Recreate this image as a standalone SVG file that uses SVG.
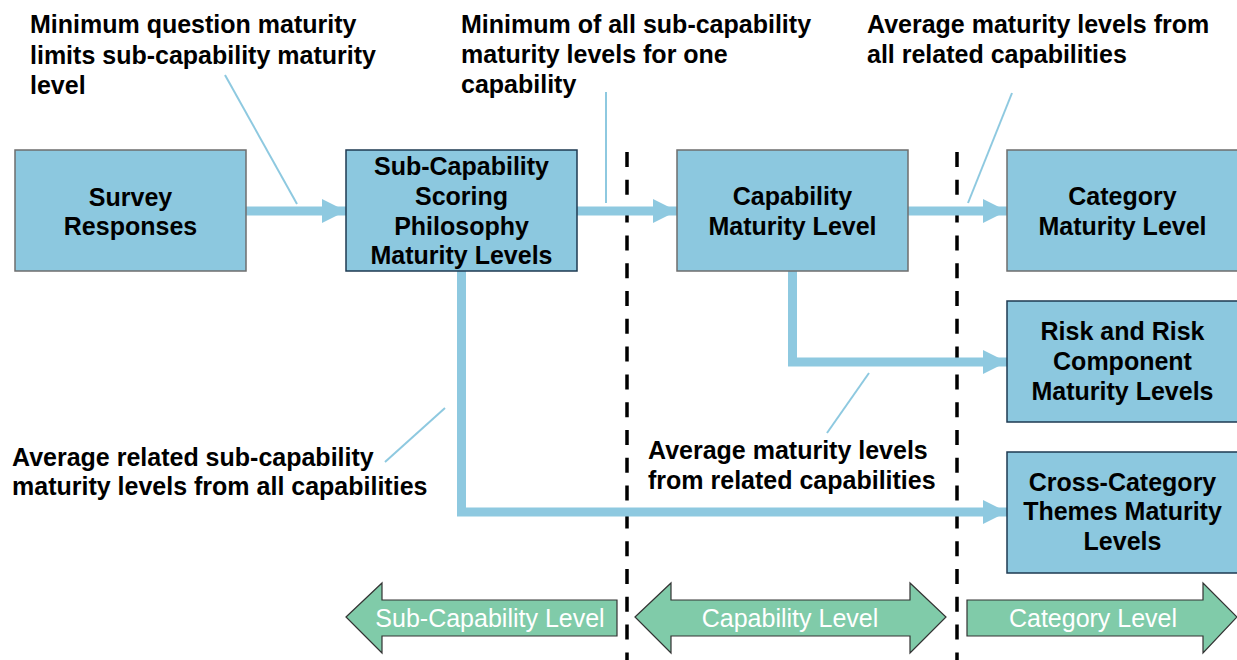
<svg xmlns="http://www.w3.org/2000/svg" width="1237" height="660" viewBox="0 0 1237 660">
<style>
  .box { fill: #8cc8df; stroke-width: 1.5; }
  .gray { stroke: #6e6e6e; }
  .dark { stroke: #1e3a52; }
  .bt { font-family: "Liberation Sans", Arial, sans-serif; font-weight: bold; font-size: 25px; fill: #000; text-anchor: middle; }
  .ann { font-family: "Liberation Sans", Arial, sans-serif; font-weight: bold; font-size: 25px; fill: #000; }
  .conn { fill: none; stroke: #8ec9e0; stroke-width: 9; stroke-linejoin: miter; }
  .lead { fill: none; stroke: #8ec9e0; stroke-width: 2; }
  .divider { stroke: #000; stroke-width: 3.5; stroke-dasharray: 15 12.8; }
  .band { fill: #80cba9; stroke: #333; stroke-width: 1.2; }
  .bandt { font-family: "Liberation Sans", Arial, sans-serif; font-size: 25px; fill: #fff; text-anchor: middle; }
</style>
<defs>
  <marker id="ah" markerUnits="userSpaceOnUse" markerWidth="24" markerHeight="24" refX="24" refY="12" orient="auto">
    <path d="M0,0 L24,12 L0,24 z" fill="#8ec9e0"/>
  </marker>
</defs>
<rect width="1237" height="660" fill="#fff"/>

<g id="dividers">
  <line class="divider" x1="627" y1="152" x2="627" y2="660"/>
  <line class="divider" x1="957" y1="152" x2="957" y2="660"/>
</g>

<g id="connectors">
  <path class="conn" d="M246,211 H346" marker-end="url(#ah)"/>
  <path class="conn" d="M577,211 H677" marker-end="url(#ah)"/>
  <path class="conn" d="M907,211 H1007" marker-end="url(#ah)"/>
  <path class="conn" d="M461.5,271 V512 H1007" marker-end="url(#ah)"/>
  <path class="conn" d="M792.5,271 V362 H1007" marker-end="url(#ah)"/>
  <line class="lead" x1="225" y1="75" x2="297" y2="204"/>
  <line class="lead" x1="606" y1="92" x2="606" y2="203"/>
  <line class="lead" x1="1012" y1="93" x2="968" y2="203"/>
  <line class="lead" x1="869" y1="373" x2="827" y2="433"/>
  <line class="lead" x1="445" y1="408" x2="385" y2="462"/>
</g>

<g id="survey">
  <rect class="box gray" x="15" y="150" width="231" height="121"/>
  <text class="bt" x="130.5" y="206">Survey</text>
  <text class="bt" x="130.5" y="235">Responses</text>
</g>
<g id="subcap">
  <rect class="box dark" x="346" y="150" width="231" height="121"/>
  <text class="bt" x="461.5" y="175">Sub-Capability</text>
  <text class="bt" x="461.5" y="205">Scoring</text>
  <text class="bt" x="461.5" y="235">Philosophy</text>
  <text class="bt" x="461.5" y="264">Maturity Levels</text>
</g>
<g id="capability">
  <rect class="box gray" x="677" y="150" width="231" height="121"/>
  <text class="bt" x="792.5" y="205">Capability</text>
  <text class="bt" x="792.5" y="235">Maturity Level</text>
</g>
<g id="category">
  <rect class="box gray" x="1007" y="150" width="232" height="121"/>
  <text class="bt" x="1122.5" y="205">Category</text>
  <text class="bt" x="1122.5" y="235">Maturity Level</text>
</g>
<g id="risk">
  <rect class="box dark" x="1007" y="301" width="232" height="121"/>
  <text class="bt" x="1122.5" y="340">Risk and Risk</text>
  <text class="bt" x="1122.5" y="370">Component</text>
  <text class="bt" x="1122.5" y="400">Maturity Levels</text>
</g>
<g id="crosscat">
  <rect class="box dark" x="1007" y="452" width="232" height="121"/>
  <text class="bt" x="1122.5" y="491">Cross-Category</text>
  <text class="bt" x="1122.5" y="520">Themes Maturity</text>
  <text class="bt" x="1122.5" y="550">Levels</text>
</g>

<g id="annotations">
  <text class="ann" x="30" y="33">Minimum question maturity</text>
  <text class="ann" x="30" y="64">limits sub-capability maturity</text>
  <text class="ann" x="30" y="94">level</text>
  <text class="ann" x="461" y="33">Minimum of all sub-capability</text>
  <text class="ann" x="461" y="63">maturity levels for one</text>
  <text class="ann" x="461" y="93">capability</text>
  <text class="ann" x="867" y="33">Average maturity levels from</text>
  <text class="ann" x="867" y="63">all related capabilities</text>
  <text class="ann" x="12" y="466">Average related sub-capability</text>
  <text class="ann" x="12" y="495">maturity levels from all capabilities</text>
  <text class="ann" x="648" y="459">Average maturity levels</text>
  <text class="ann" x="648" y="489">from related capabilities</text>
</g>

<g id="level-subcap">
  <polygon class="band" points="346,617 382,583 382,600 617,600 617,636 382,636 382,653"/>
  <text class="bandt" x="490" y="627">Sub-Capability Level</text>
</g>
<g id="level-cap">
  <polygon class="band" points="635,617 671,583 671,600 910,600 910,583 946,617 910,653 910,636 671,636 671,653"/>
  <text class="bandt" x="790" y="627">Capability Level</text>
</g>
<g id="level-cat">
  <polygon class="band" points="967,600 1203,600 1203,583 1237,617 1203,653 1203,636 967,636"/>
  <text class="bandt" x="1093" y="627">Category Level</text>
</g>
</svg>
